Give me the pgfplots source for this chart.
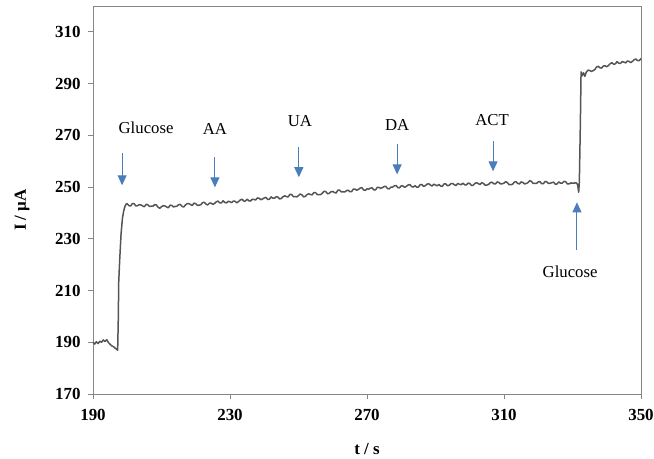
\documentclass[border=0pt]{standalone}
\usepackage{fontspec}
\setmainfont{Liberation Serif}
\usepackage{pgfplots}
\pgfplotsset{compat=1.18}
\usetikzlibrary{arrows.meta}
\definecolor{axgray}{RGB}{134,134,134}
\definecolor{linegray}{RGB}{85,85,85}
\definecolor{arrblue}{RGB}{74,126,187}
\begin{document}
\begin{tikzpicture}
\begin{axis}[
  scale only axis,
  width=548bp, height=388bp,
  xmin=190, xmax=350, ymin=170, ymax=320,
  xtick={190,230,270,310,350},
  ytick={170,190,210,230,250,270,290,310},
  xtick pos=left, ytick pos=left,
  tick align=outside,
  major tick length=5bp,
  axis line style={axgray, line width=0.8bp},
  tick style={axgray, line width=0.8bp},
  /pgf/number format/assume math mode=true,
  ticklabel style={font=\fontsize{17}{20}\selectfont\bfseries, text=black},
  yticklabel style={xshift=-4bp},
  xticklabel style={yshift=-7bp},
  xlabel={t / s},
  ylabel={I / µA},
  label style={font=\fontsize{17}{20}\selectfont\bfseries},
  xlabel style={at={(axis description cs:0.5,0)}, anchor=base, yshift=-60bp},
  ylabel style={at={(axis description cs:-0.1296,0.474)}, anchor=center},
  clip=false,
]
\addplot[linegray, line width=1.5bp, line join=round] coordinates {
(190,190.0)(190.5,189.3)(191,190.2)(191.5,189.5)(192,190.4)(192.5,190.0)(193,190.9)(193.5,190.3)(194,191.0)(194.5,189.9)(195,189.2)(195.5,188.6)(196,188.3)(196.5,187.7)(197,187.2)(197.2,186.9)
(197.4,200)(197.5,213)(197.8,222)(198.2,232)(198.6,238)(199.0,241)(199.4,242.8)(199.8,243.6)
(200,243.5)(200.5,242.8)(201,242.7)(201.5,243.6)(202,243.6)(202.5,242.7)(203,242.8)(203.5,243.2)(204,243.1)(204.5,242.7)
(205,242.4)(205.5,243.3)(206,243.2)(206.5,242.5)(207,242.6)(207.5,242.6)(208,243.2)(208.5,243.1)(209,242.2)(209.5,241.8)
(210,242.4)(210.5,242.8)(211,242.7)(211.5,242.3)(212,242.0)(212.5,243.0)(213,242.9)(213.5,242.3)(214,242.5)(214.5,242.6)
(215,243.2)(215.5,243.3)(216,242.5)(216.5,242.3)(217,243.1)(217.5,243.6)(218,243.6)(218.5,243.2)(219,242.9)(219.5,243.8)
(220,243.6)(220.5,242.9)(221,243.0)(221.5,243.2)(222,244.0)(222.5,244.1)(223,243.4)(223.5,243.1)(224,243.8)(224.5,243.8)
(225,243.3)(225.5,243.7)(226,244.3)(226.5,244.6)(227,243.9)(227.5,243.9)(228,244.7)(228.5,244.0)(229,243.9)(229.5,244.5)
(230,244.3)(230.5,244.0)(231,244.6)(231.5,244.5)(232,243.9)(232.5,244.4)(233,245.0)(233.5,245.3)(234,244.6)(234.5,244.6)
(235,245.3)(235.5,244.7)(236,244.6)(236.5,245.3)(237,245.2)(237.5,245.0)(238,245.8)(238.5,245.7)(239,245.1)(239.5,245.4)
(240,245.8)(240.5,246.0)(241,245.2)(241.5,245.3)(242,246.2)(242.5,245.7)(243,245.7)(243.5,246.3)(244,246.1)(244.5,245.4)
(245,245.6)(245.5,246.3)(246,246.6)(246.5,246.3)(247,246.2)(247.5,247.2)(248,247.1)(248.5,246.3)(249,246.3)(249.5,246.2)
(250,246.7)(250.5,247.3)(251,247.0)(251.5,246.2)(252,246.4)(252.5,247.1)(253,247.4)(253.5,247.1)(254,247.0)(254.5,247.9)
(255,247.8)(255.5,247.1)(256,247.1)(256.5,247.1)(257,247.7)(257.5,248.4)(258,248.2)(258.5,247.4)(259,247.6)(259.5,248.2)
(260,248.3)(260.5,247.9)(261,247.7)(261.5,248.8)(262,248.8)(262.5,248.1)(263,248.2)(263.5,248.1)(264,248.6)(264.5,248.8)
(265,248.2)(265.5,248.2)(266,249.2)(266.5,249.2)(267,248.8)(267.5,249.1)(268,249.6)(268.5,249.8)(269,248.9)(269.5,248.7)
(270,249.3)(270.5,249.2)(271,249.6)(271.5,249.7)(272,248.9)(272.5,248.9)(273,249.9)(273.5,249.9)(274,249.5)(274.5,249.8)
(275,250.2)(275.5,250.3)(276,249.4)(276.5,249.3)(277,250.0)(277.5,250.0)(278,250.5)(278.5,250.6)(279,249.8)(279.5,249.7)
(280,250.5)(280.5,250.4)(281,249.9)(281.5,250.3)(282,250.8)(282.5,251.0)(283,250.2)(283.5,250.0)(284,250.5)(284.5,250.0)
(285,250.0)(285.5,250.9)(286,251.0)(286.5,250.3)(287,250.5)(287.5,251.1)(288,251.3)(288.5,250.8)(289,250.4)(289.5,251.1)
(290,250.8)(290.5,250.5)(291,251.0)(291.5,250.4)(292,250.3)(292.5,251.2)(293,251.2)(293.5,250.5)(294,250.7)(294.5,251.3)
(295,251.4)(295.5,250.9)(296,250.6)(296.5,251.4)(297,251.1)(297.5,250.9)(298,251.5)(298.5,250.9)(299,250.8)(299.5,251.5)
(300,251.4)(300.5,250.6)(301,250.7)(301.5,251.4)(302,251.7)(302.5,251.3)(303,251.0)(303.5,251.7)(304,251.4)(304.5,250.7)
(305,250.8)(305.5,251.0)(306,251.7)(306.5,251.9)(307,251.3)(307.5,251.2)(308,252.0)(308.5,251.8)(309,251.2)(309.5,251.3)
(310,251.5)(310.5,252.1)(311,251.7)(311.5,250.9)(312,250.9)(312.5,251.1)(313,251.9)(313.5,252.1)(314,251.4)(314.5,251.2)
(315,252.0)(315.5,251.8)(316,251.2)(316.5,251.4)(317,251.7)(317.5,252.5)(318,252.2)(318.5,251.4)(319,251.4)(319.5,251.4)
(320,252.0)(320.5,252.1)(321,251.3)(321.5,251.3)(322,252.2)(322.5,252.0)(323,251.4)(323.5,251.5)(324,251.7)(324.5,251.9)
(325,251.1)(325.5,251.2)(326,252.0)(326.5,251.5)(327,251.5)(327.5,252.2)(328,252.1)(328.5,251.2)(329,251.2)(329.5,251.6)
(330,251.5)(330.5,251.5)(331,251.7)(331.5,251.0)(331.8,248.0)(332.0,252)(332.3,275)(332.5,294.5)(332.8,293.0)(333.2,294.2)(333.6,292.8)
(334,294.3)(334.5,295.2)(335,295.1)(335.5,294.7)(336,295.0)(336.5,295.4)(337,296.4)(337.5,296.7)(338,296.1)(338.5,296.0)
(339,296.8)(339.5,296.9)(340,296.5)(340.5,297.0)(341,297.7)(341.5,298.1)(342,297.5)(342.5,297.6)(343,298.5)(343.5,297.9)
(344,297.8)(344.5,298.5)(345,298.3)(345.5,298.0)(346,298.7)(346.5,298.6)(347,298.1)(347.5,298.6)(348,299.2)(348.5,299.5)
(349,298.9)(349.5,298.9)(350,299.7)
};
% annotations
\tikzset{ann/.style={arrblue, line width=1bp, -{Triangle[width=9bp,length=10bp]}},
         lab/.style={font=\fontsize{16.8}{20}\selectfont, text=black}}
\draw[ann] (axis cs:198.5,263.1) -- (axis cs:198.5,250.7);
\node[lab] at (axis cs:205.5,273.1) {Glucose};
\draw[ann] (axis cs:225.6,261.5) -- (axis cs:225.6,249.9);
\node[lab] at (axis cs:225.6,272.4) {AA};
\draw[ann] (axis cs:250.1,265.4) -- (axis cs:250.1,253.8);
\node[lab] at (axis cs:250.4,275.5) {UA};
\draw[ann] (axis cs:278.8,266.5) -- (axis cs:278.8,254.9);
\node[lab] at (axis cs:278.8,273.9) {DA};
\draw[ann] (axis cs:306.8,267.7) -- (axis cs:306.8,256.1);
\node[lab] at (axis cs:306.5,275.9) {ACT};
\draw[ann] (axis cs:331.3,225.8) -- (axis cs:331.3,244.1);
\node[lab] at (axis cs:329.3,217.3) {Glucose};
\end{axis}
\pgfresetboundingbox
\path (-93bp,-65bp) rectangle (561bp,394bp);
\end{tikzpicture}
\end{document}
